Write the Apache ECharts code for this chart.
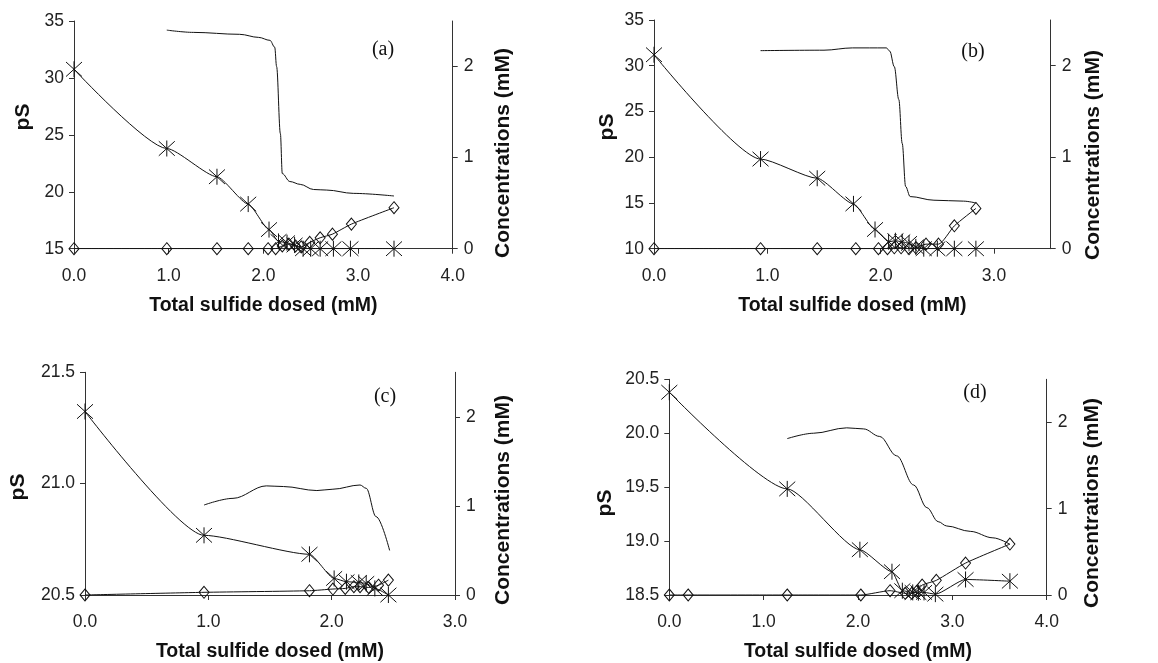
<!DOCTYPE html>
<html>
<head>
<meta charset="utf-8">
<script src="https://cdn.jsdelivr.net/npm/echarts@6/dist/echarts.min.js"></script>
<style>html,body{margin:0;padding:0;background:#fff}#c{width:1158px;height:663px}</style>
</head>
<body>
<div id="c"></div>
<script>
// ---- Data (x = total sulfide dosed, mM) ----
// Panel (a)
const psA = [[0.98,34.2],[1.26,34.0],[1.75,33.83],[1.95,33.56],[2.07,33.3],[2.12,32.7],[2.14,31.0],[2.18,25.1],[2.2,21.6],[2.28,20.9],[2.39,20.65],[2.53,20.2],[2.67,20.15],[2.95,19.86],[3.38,19.63]];
const starA = [[0,1.97],[0.98,1.10],[1.51,0.79],[1.84,0.49],[2.06,0.21],[2.16,0.08],[2.25,0.066],[2.33,0.04],[2.42,0],[2.5,0],[2.6,0],[2.74,0],[2.92,0],[3.38,0]];
const diaA = [[0,0],[0.98,0],[1.51,0],[1.84,0],[2.05,0],[2.13,0],[2.2,0.03],[2.27,0.05],[2.34,0.03],[2.4,0.02],[2.49,0.07],[2.6,0.12],[2.73,0.16],[2.93,0.27],[3.38,0.45]];
// Panel (b)
const psB = [[0.94,31.65],[1.5,31.7],[1.75,31.95],[2.05,31.95],[2.08,31.6],[2.12,29.9],[2.16,26.3],[2.19,21.5],[2.22,16.8],[2.26,15.7],[2.47,15.3],[2.73,15.2],[2.84,15.0]];
const starB = [[0,2.12],[0.94,0.98],[1.44,0.77],[1.76,0.49],[1.95,0.21],[2.07,0.076],[2.13,0.087],[2.19,0.076],[2.25,0.058],[2.31,0.02],[2.38,0],[2.5,0],[2.65,0],[2.84,0]];
const diaB = [[0,0],[0.94,0],[1.44,0],[1.78,0],[1.98,0],[2.06,0],[2.12,0.01],[2.18,0.01],[2.25,0],[2.31,0.01],[2.4,0.05],[2.51,0.05],[2.65,0.25],[2.84,0.44]];
// Panel (c)
const psC = [[0.965,20.904],[1.2,20.934],[1.47,20.99],[1.61,20.987],[1.88,20.969],[2.01,20.975],[2.23,20.994],[2.28,20.979],[2.36,20.852],[2.47,20.70]];
const starC = [[0,2.06],[0.965,0.67],[1.82,0.457],[2.02,0.186],[2.12,0.149],[2.22,0.141],[2.28,0.13],[2.35,0.074],[2.46,0]];
const diaC = [[0,0],[0.965,0.03],[1.82,0.048],[2.01,0.067],[2.11,0.074],[2.18,0.093],[2.23,0.093],[2.3,0.085],[2.38,0.11],[2.46,0.167]];
// Panel (d)
const psD = [[1.25,19.95],[1.53,20.0],[1.88,20.05],[2.06,20.04],[2.23,19.97],[2.41,19.79],[2.59,19.52],[2.73,19.31],[2.85,19.18],[2.94,19.14],[3.19,19.09],[3.43,19.03],[3.61,18.97]];
const starD = [[0,2.35],[1.25,1.23],[2.02,0.525],[2.36,0.27],[2.47,0.05],[2.58,0.03],[2.64,0.027],[2.7,0.03],[2.82,0.01],[3.14,0.18],[3.61,0.16]];
const diaD = [[0,0],[0.2,0],[1.25,0],[2.03,0],[2.34,0.05],[2.5,0.02],[2.57,0.02],[2.62,0.04],[2.68,0.115],[2.83,0.17],[3.14,0.37],[3.61,0.59]];

// Axis ranges / ticks
const xMax = [4, 3.5, 3, 4];
const xTicks = [[0,1,2,3,4],[0,1,2,3],[0,1,2,3],[0,1,2,3,4]];
const psMin = [15, 10, 20.5, 18.5];
const psMax = [35, 35, 21.5, 20.5];
const psStep = [5, 5, 0.5, 0.5];
const psDec = [0, 0, 1, 1];
const concTicks = [0, 1, 2];
const panelLabels = ['(a)', '(b)', '(c)', '(d)'];
const xTitle = 'Total sulfide dosed (mM)';
const psTitle = 'pS';
const concTitle = 'Concentrations (mM)';

const ps = [psA, psB, psC, psD];
const stars = [starA, starB, starC, starD];
const dias = [diaA, diaB, diaC, diaD];

// ---- Layout ----
const grids = [
  {left: 74, right: 705.3, top: 21, bottom: 414.3},
  {left: 654, right: 107.3, top: 20, bottom: 414.3},
  {left: 85, right: 703, top: 372.3, bottom: 68},
  {left: 669.3, right: 111.3, top: 379.3, bottom: 65.7}
];
const labelPos = [[383, 50], [973, 52], [385, 397], [975, 393]];
const psTitlePos = [[23, 117], [607, 127], [18, 487], [605, 503]];
const concTitlePos = [[503, 153], [1093, 155], [503, 500], [1092, 503]];

const INK = '#111';
const AX = '#333';
const tickFont = {fontFamily: 'Liberation Sans', fontSize: 17.5, color: '#222'};
const titleFontX = {fontFamily: 'Liberation Sans', fontWeight: 'bold', fontSize: 19.5, color: '#111'};
const rotFont = 'bold 21px "Liberation Sans"';
const STAR = 'path://M0,0L20,20M0,20L20,0M10,-1L10,21';

const option = {
  animation: false,
  backgroundColor: '#fff',
  grid: grids.map(g => Object.assign({containLabel: false}, g)),
  xAxis: [], yAxis: [], series: [], graphic: []
};

for (let i = 0; i < 4; i++) {
  option.xAxis.push({
    type: 'value', gridIndex: i, min: 0, max: xMax[i], interval: 1,
    name: xTitle, nameLocation: 'middle', nameGap: 47,
    nameTextStyle: titleFontX,
    axisLine: {lineStyle: {color: AX, width: 1}},
    axisTick: {show: true, length: 5, customValues: xTicks[i], lineStyle: {color: AX}},
    axisLabel: Object.assign({margin: 18, customValues: xTicks[i], formatter: v => v.toFixed(1)}, tickFont),
    splitLine: {show: false}
  });
  option.yAxis.push({
    type: 'value', gridIndex: i, position: 'left', min: psMin[i], max: psMax[i], interval: psStep[i],
    axisLine: {show: true, lineStyle: {color: AX, width: 1}},
    axisTick: {show: true, length: 5, lineStyle: {color: AX}},
    axisLabel: Object.assign({margin: 10, formatter: v => v.toFixed(psDec[i])}, tickFont),
    splitLine: {show: false}
  });
  option.yAxis.push({
    type: 'value', gridIndex: i, position: 'right', min: 0, max: 2.5,
    axisLine: {show: true, lineStyle: {color: AX, width: 1}},
    axisTick: {show: true, length: 5, customValues: concTicks, lineStyle: {color: AX}},
    axisLabel: Object.assign({margin: 11, customValues: concTicks, formatter: v => String(v)}, tickFont),
    splitLine: {show: false}
  });
  option.series.push({
    type: 'line', xAxisIndex: i, yAxisIndex: 2 * i, data: ps[i],
    showSymbol: false, symbol: 'none', smooth: 0.35, smoothMonotone: 'x',
    lineStyle: {color: INK, width: 1}, z: 2
  });
  option.series.push({
    type: 'line', xAxisIndex: i, yAxisIndex: 2 * i + 1, data: dias[i],
    symbol: 'diamond', symbolSize: [10, 12], smooth: 0.2,
    lineStyle: {color: INK, width: 1},
    itemStyle: {color: 'rgba(0,0,0,0)', borderColor: INK, borderWidth: 1}, z: 3
  });
  option.series.push({
    type: 'line', xAxisIndex: i, yAxisIndex: 2 * i + 1, data: stars[i],
    symbol: STAR, symbolSize: 16, smooth: 0.2, smoothMonotone: 'x',
    lineStyle: {color: INK, width: 1},
    itemStyle: {color: 'rgba(0,0,0,0)', borderColor: INK, borderWidth: 1}, z: 4
  });
  option.graphic.push({
    type: 'text', x: labelPos[i][0], y: labelPos[i][1],
    style: {text: panelLabels[i], font: '20px "Liberation Serif"', fill: '#111', align: 'center', verticalAlign: 'middle'}
  });
  option.graphic.push({
    type: 'text', x: psTitlePos[i][0], y: psTitlePos[i][1], rotation: Math.PI / 2,
    style: {text: psTitle, font: rotFont, fill: '#111', align: 'center', verticalAlign: 'middle'}
  });
  option.graphic.push({
    type: 'text', x: concTitlePos[i][0], y: concTitlePos[i][1], rotation: Math.PI / 2,
    style: {text: concTitle, font: rotFont, fill: '#111', align: 'center', verticalAlign: 'middle'}
  });
}

const chart = echarts.init(document.getElementById('c'), null, {renderer: 'canvas'});
chart.setOption(option);
</script>
</body>
</html>
